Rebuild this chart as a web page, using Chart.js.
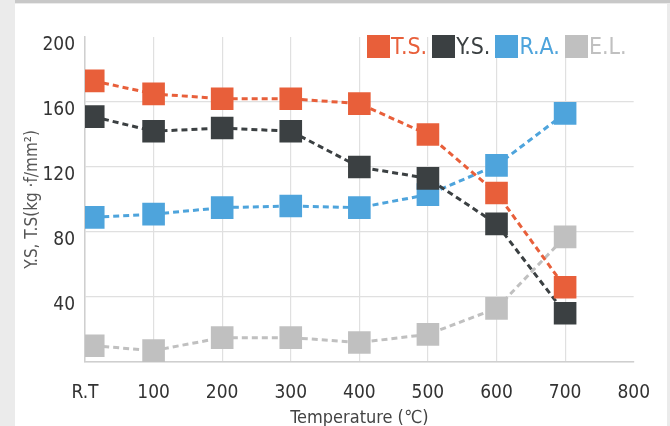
<!DOCTYPE html>
<html>
<head>
<meta charset="utf-8">
<script src="https://cdn.jsdelivr.net/npm/chart.js@4"></script>
<style>
  html, body { margin: 0; padding: 0; }
  body { width: 670px; height: 426px; background: #ebebeb; position: relative; overflow: hidden; }
  #topbar { position: absolute; left: 15px; top: 0; width: 655px; height: 3px; background: #c8c8c8; }
  #panel { position: absolute; left: 15px; top: 4px; width: 652px; height: 422px; background: #fff; }
  #wrap { position: absolute; left: 0; top: 0; width: 670px; height: 426px; }
  #legend { position: absolute; left: 367px; top: 35px; display: flex; gap: 5px;
    font-family: "DejaVu Sans Condensed", sans-serif; font-size: 23px; line-height: 23px; }
  #legend span.box { display: inline-block; width: 23px; height: 23px; vertical-align: top; margin-right: 1px; }
</style>
</head>
<body>
<div id="topbar"></div>
<div id="panel"></div>
<div id="wrap"><canvas id="lineChart" width="670" height="426"></canvas></div>
<div id="legend"></div>
<script>
// temperatures (R.T plotted just right of the axis)
let temps = [12, 100, 200, 300, 400, 500, 600, 700];
let xTickLabels = ["R.T", "100", "200", "300", "400", "500", "600", "700", "800"];

let seriesNames = ["T.S.", "Y.S.", "R.A.", "E.L."];
let seriesColors = ["#e85f3a", "#3b4042", "#4ea4dc", "#c0c0c0"];

let tsValues = [173, 165, 162, 162, 159, 140, 104, 46];
let ysValues = [151, 142, 144, 142, 120, 113, 85, 30];
let raValues = [89, 91, 95, 96, 95, 103, 121, 153];
let elValues = [10, 7, 15, 15, 12, 17, 33, 77];

let allValues = [tsValues, ysValues, raValues, elValues];
let font = "'DejaVu Sans Condensed', sans-serif";

let datasets = allValues.map((vals, i) => ({
  label: seriesNames[i],
  data: vals.map((v, j) => ({ x: temps[j], y: v })),
  borderColor: seriesColors[i],
  backgroundColor: seriesColors[i],
  borderWidth: 3,
  borderDash: [6, 4],
  pointStyle: "rect",
  pointRadius: 16,
  pointBorderWidth: 0,
  pointBackgroundColor: seriesColors[i],
}));

// legend as html
let legend = document.getElementById("legend");
seriesNames.forEach((name, i) => {
  let item = document.createElement("div");
  item.style.color = seriesColors[i];
  item.innerHTML = '<span class="box" style="background:' + seriesColors[i] + '"></span>' + name;
  legend.appendChild(item);
});

let ctx = document.getElementById("lineChart").getContext("2d");
let myChart = new Chart(ctx, {
  type: "line",
  data: { datasets: datasets },
  options: {
    responsive: false,
    animation: false,
    layout: { padding: { top: 37, right: 33, left: 0, bottom: 0 } },
    plugins: { legend: { display: false }, tooltip: { enabled: false } },
    scales: {
      x: {
        type: "linear",
        min: 0,
        max: 800,
        afterFit: (scale) => { scale.height = 64; },
        border: { color: "#cfcfcf", width: 1.5 },
        grid: {
          color: (c) => (c.tick && c.tick.value === 800 ? "rgba(0,0,0,0)" : "#e0e0e0"),
          lineWidth: 1.2,
          drawTicks: false,
        },
        ticks: {
          stepSize: 100,
          autoSkip: false,
          maxRotation: 0,
          padding: 20,
          color: "#333",
          font: { family: font, size: 19 },
          callback: (v, i) => xTickLabels[i],
        },
        title: {
          display: true,
          text: "Temperature (℃)",
          color: "#444",
          padding: { top: 0, bottom: 0 },
          font: { family: font, size: 18, lineHeight: 0.8 },
        },
      },
      y: {
        min: 0,
        max: 200,
        afterFit: (scale) => { scale.width = 85; },
        border: { color: "#cfcfcf", width: 1.5 },
        grid: {
          color: (c) => (c.tick && c.tick.value === 200 ? "rgba(0,0,0,0)" : "#e0e0e0"),
          lineWidth: 1.2,
          drawTicks: false,
        },
        ticks: {
          stepSize: 40,
          padding: 10,
          labelOffset: 8,
          color: "#333",
          font: { family: font, size: 19 },
          callback: (v) => (v === 0 ? "" : v),
        },
        title: {
          display: true,
          text: "Y.S, T.S(kg ·f/mm²)",
          color: "#555",
          padding: { top: 22, bottom: 0 },
          font: { family: font, size: 17 },
        },
      },
    },
  },
});
</script>
</body>
</html>
